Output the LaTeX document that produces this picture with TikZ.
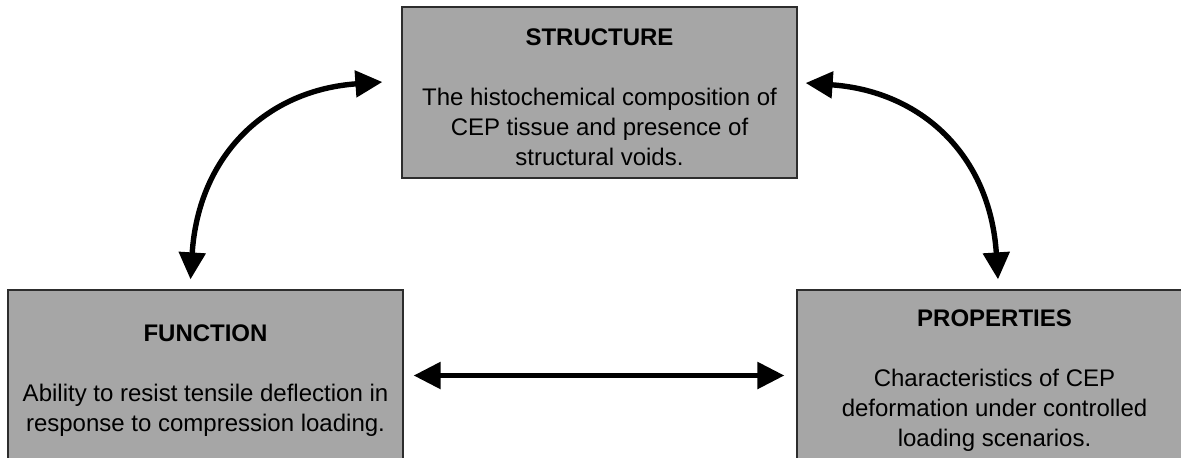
\documentclass[tikz,border=0pt]{standalone}
\usepackage{fontspec}
\setmainfont{Liberation Sans}
\usepackage{tikz}
\usetikzlibrary{arrows.meta,positioning}
\usepackage{xcolor}
\definecolor{boxgray}{RGB}{166,166,166}
\definecolor{edgegray}{RGB}{45,45,45}
\tikzstyle{arrow} = [line width=2.7pt, {Triangle[length=13.5pt,width=13pt]}-{Triangle[length=13.5pt,width=13pt]}, color=black]
\tikzstyle{topic} = [rectangle, minimum width=197.5pt, minimum height=85.5pt, align=center, draw=edgegray, fill=boxgray, line width=0.6pt, font=\fontsize{12}{15}\selectfont, inner sep=0pt]

\begin{document}
\begin{tikzpicture}[x=0.5pt, y=-0.5pt]
\useasboundingbox (0,0) rectangle (1181,457);
\clip (0,0) rectangle (1181,457);
% three topics
\node (structure) [topic] at (599.5,92.5) {\rule{0pt}{13pt}\textbf{STRUCTURE}\\[15pt]The histochemical composition of\\CEP tissue and presence of\\structural voids.};
\node (function) [topic] at (205.5,375.5) {\rule{0pt}{13pt}\textbf{FUNCTION}\\[15pt]Ability to resist tensile deflection in\\response to compression loading.};
\node (properties) [topic] at (994.5,375.5) {\rule{0pt}{13pt}\textbf{PROPERTIES}\\[15pt]Characteristics of CEP\\deformation under controlled\\loading scenarios.};

% links between them
\draw[arrow] ([shift={(-15,-10)}]function.north) .. controls +(8,-125) and +(-115,8) .. ([shift={(-19,-10.5)}]structure.west);
\draw[arrow] ([shift={(3.5,-10)}]properties.north) .. controls +(-8,-125) and +(115,8) .. ([shift={(8,-9.5)}]structure.east);
\draw[arrow, shorten <=5pt, shorten >=6pt] (function.east) -- (properties.west);
\end{tikzpicture}
\end{document}
